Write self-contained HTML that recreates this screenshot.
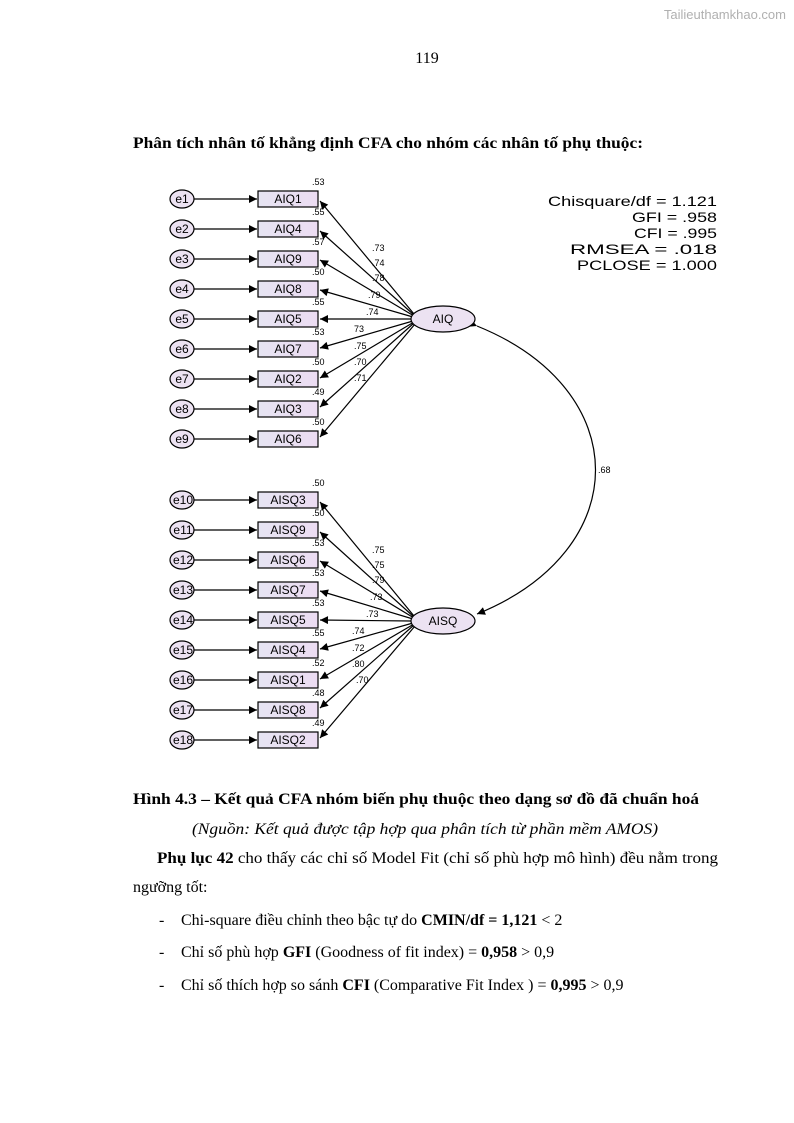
<!DOCTYPE html>
<html><head><meta charset="utf-8"><style>
html,body{margin:0;padding:0;background:#fff}
svg{display:block}
.d{font-family:"Liberation Sans",Arial,sans-serif}
.t{font-family:"Liberation Serif","Times New Roman",serif;font-size:16px;fill:#000}
</style></head><body>
<svg width="794" height="1123" viewBox="0 0 794 1123" xmlns="http://www.w3.org/2000/svg">
<defs>
<marker id="a" viewBox="0 0 10 10" refX="10" refY="5" markerWidth="12" markerHeight="8" markerUnits="userSpaceOnUse" orient="auto"><path d="M0,0L10,5L0,10z" fill="#000"/></marker>
<linearGradient id="g" x1="0" x2="1"><stop offset="0" stop-color="#e6e4f2"/><stop offset="1" stop-color="#ecdcf2"/></linearGradient>
</defs>
<text x="786" y="19" text-anchor="end" class="d" font-size="13" fill="#b0b0b0">Tailieuthamkhao.com</text>
<text x="427" y="63" text-anchor="middle" class="t">119</text>
<text x="133" y="148" class="t" font-weight="bold" textLength="510" lengthAdjust="spacingAndGlyphs">Phân tích nhân tố khẳng định CFA cho nhóm các nhân tố phụ thuộc:</text>

<g class="d" font-size="14" fill="#000">
<text x="548" y="206" textLength="169" lengthAdjust="spacingAndGlyphs">Chisquare/df = 1.121</text>
<text x="632" y="222" textLength="85" lengthAdjust="spacingAndGlyphs">GFI = .958</text>
<text x="634" y="238" textLength="83" lengthAdjust="spacingAndGlyphs">CFI = .995</text>
<text x="570" y="254" textLength="147" lengthAdjust="spacingAndGlyphs">RMSEA = .018</text>
<text x="577" y="270" textLength="140" lengthAdjust="spacingAndGlyphs">PCLOSE = 1.000</text>
</g>

<g stroke="#000" stroke-width="1.2" fill="none">
<path d="M477,326 C635,390 635,550 477,614" marker-start="url(#a)" marker-end="url(#a)"/>
<g marker-end="url(#a)">
<line x1="194" y1="199" x2="257" y2="199"/><line x1="194" y1="229" x2="257" y2="229"/><line x1="194" y1="259" x2="257" y2="259"/><line x1="194" y1="289" x2="257" y2="289"/><line x1="194" y1="319" x2="257" y2="319"/><line x1="194" y1="349" x2="257" y2="349"/><line x1="194" y1="379" x2="257" y2="379"/><line x1="194" y1="409" x2="257" y2="409"/><line x1="194" y1="439" x2="257" y2="439"/>
<line x1="194" y1="500" x2="257" y2="500"/><line x1="194" y1="530" x2="257" y2="530"/><line x1="194" y1="560" x2="257" y2="560"/><line x1="194" y1="590" x2="257" y2="590"/><line x1="194" y1="620" x2="257" y2="620"/><line x1="194" y1="650" x2="257" y2="650"/><line x1="194" y1="680" x2="257" y2="680"/><line x1="194" y1="710" x2="257" y2="710"/><line x1="194" y1="740" x2="257" y2="740"/>
<line x1="414" y1="314" x2="320" y2="201"/><line x1="414" y1="315" x2="320" y2="231"/><line x1="414" y1="316" x2="320" y2="260"/><line x1="413" y1="317" x2="320" y2="290"/><line x1="411" y1="319" x2="320" y2="319"/><line x1="413" y1="321" x2="320" y2="348"/><line x1="414" y1="322" x2="320" y2="378"/><line x1="414" y1="323" x2="320" y2="407"/><line x1="415" y1="324" x2="320" y2="437"/>
<line x1="414" y1="616" x2="320" y2="502"/><line x1="414" y1="617" x2="320" y2="532"/><line x1="414" y1="618" x2="320" y2="561"/><line x1="413" y1="619" x2="320" y2="591"/><line x1="411" y1="621" x2="320" y2="620"/><line x1="413" y1="623" x2="320" y2="649"/><line x1="414" y1="624" x2="320" y2="679"/><line x1="414" y1="625" x2="320" y2="708"/><line x1="415" y1="626" x2="320" y2="738"/>
</g>
</g>

<g stroke="#000" stroke-width="1.2" fill="#ece2f2">
<ellipse cx="443" cy="319" rx="32" ry="13"/><ellipse cx="443" cy="621" rx="32" ry="13"/>
<ellipse cx="182" cy="199" rx="12" ry="9"/><ellipse cx="182" cy="229" rx="12" ry="9"/><ellipse cx="182" cy="259" rx="12" ry="9"/><ellipse cx="182" cy="289" rx="12" ry="9"/><ellipse cx="182" cy="319" rx="12" ry="9"/><ellipse cx="182" cy="349" rx="12" ry="9"/><ellipse cx="182" cy="379" rx="12" ry="9"/><ellipse cx="182" cy="409" rx="12" ry="9"/><ellipse cx="182" cy="439" rx="12" ry="9"/>
<ellipse cx="182" cy="500" rx="12" ry="9"/><ellipse cx="182" cy="530" rx="12" ry="9"/><ellipse cx="182" cy="560" rx="12" ry="9"/><ellipse cx="182" cy="590" rx="12" ry="9"/><ellipse cx="182" cy="620" rx="12" ry="9"/><ellipse cx="182" cy="650" rx="12" ry="9"/><ellipse cx="182" cy="680" rx="12" ry="9"/><ellipse cx="182" cy="710" rx="12" ry="9"/><ellipse cx="182" cy="740" rx="12" ry="9"/>
</g>
<g stroke="#000" stroke-width="1.2" fill="url(#g)">
<rect x="258" y="191" width="60" height="16"/><rect x="258" y="221" width="60" height="16"/><rect x="258" y="251" width="60" height="16"/><rect x="258" y="281" width="60" height="16"/><rect x="258" y="311" width="60" height="16"/><rect x="258" y="341" width="60" height="16"/><rect x="258" y="371" width="60" height="16"/><rect x="258" y="401" width="60" height="16"/><rect x="258" y="431" width="60" height="16"/>
<rect x="258" y="492" width="60" height="16"/><rect x="258" y="522" width="60" height="16"/><rect x="258" y="552" width="60" height="16"/><rect x="258" y="582" width="60" height="16"/><rect x="258" y="612" width="60" height="16"/><rect x="258" y="642" width="60" height="16"/><rect x="258" y="672" width="60" height="16"/><rect x="258" y="702" width="60" height="16"/><rect x="258" y="732" width="60" height="16"/>
</g>

<g class="d" font-size="12" text-anchor="middle" fill="#000">
<text x="443" y="323">AIQ</text><text x="443" y="625">AISQ</text>
<text x="288" y="203">AIQ1</text><text x="288" y="233">AIQ4</text><text x="288" y="263">AIQ9</text><text x="288" y="293">AIQ8</text><text x="288" y="323">AIQ5</text><text x="288" y="353">AIQ7</text><text x="288" y="383">AIQ2</text><text x="288" y="413">AIQ3</text><text x="288" y="443">AIQ6</text>
<text x="288" y="504">AISQ3</text><text x="288" y="534">AISQ9</text><text x="288" y="564">AISQ6</text><text x="288" y="594">AISQ7</text><text x="288" y="624">AISQ5</text><text x="288" y="654">AISQ4</text><text x="288" y="684">AISQ1</text><text x="288" y="714">AISQ8</text><text x="288" y="744">AISQ2</text>
<text x="182" y="203">e1</text><text x="182" y="233">e2</text><text x="182" y="263">e3</text><text x="182" y="293">e4</text><text x="182" y="323">e5</text><text x="182" y="353">e6</text><text x="182" y="383">e7</text><text x="182" y="413">e8</text><text x="182" y="443">e9</text>
<text x="183" y="504">e10</text><text x="183" y="534">e11</text><text x="183" y="564">e12</text><text x="183" y="594">e13</text><text x="183" y="624">e14</text><text x="183" y="654">e15</text><text x="183" y="684">e16</text><text x="183" y="714">e17</text><text x="183" y="744">e18</text>
</g>
<g class="d" font-size="9" fill="#000">
<text x="312" y="185">.53</text><text x="312" y="215">.55</text><text x="312" y="245">.57</text><text x="312" y="275">.50</text><text x="312" y="305">.55</text><text x="312" y="335">.53</text><text x="312" y="365">.50</text><text x="312" y="395">.49</text><text x="312" y="425">.50</text>
<text x="312" y="486">.50</text><text x="312" y="516">.50</text><text x="312" y="546">.53</text><text x="312" y="576">.53</text><text x="312" y="606">.53</text><text x="312" y="636">.55</text><text x="312" y="666">.52</text><text x="312" y="696">.48</text><text x="312" y="726">.49</text>
<text x="372" y="251">.73</text><text x="372" y="266">.74</text><text x="372" y="281">.78</text><text x="368" y="298">.79</text><text x="366" y="315">.74</text><text x="354" y="332">73</text><text x="354" y="349">.75</text><text x="354" y="365">.70</text><text x="354" y="381">.71</text>
<text x="372" y="553">.75</text><text x="372" y="568">.75</text><text x="372" y="583">.79</text><text x="370" y="600">.73</text><text x="366" y="617">.73</text><text x="352" y="634">.74</text><text x="352" y="651">.72</text><text x="352" y="667">.80</text><text x="356" y="683">.70</text>
<text x="598" y="473">.68</text>
</g>

<text x="133" y="804" class="t" font-weight="bold" textLength="566" lengthAdjust="spacingAndGlyphs">Hình 4.3 – Kết quả CFA nhóm biến phụ thuộc theo dạng sơ đồ đã chuẩn hoá</text>
<text x="192" y="834" class="t" font-style="italic" textLength="466" lengthAdjust="spacingAndGlyphs">(Nguồn: Kết quả được tập hợp qua phân tích từ phần mềm AMOS)</text>
<text x="157" y="863" class="t" textLength="561" lengthAdjust="spacingAndGlyphs"><tspan font-weight="bold">Phụ lục 42</tspan> cho thấy các chỉ số Model Fit (chỉ số phù hợp mô hình) đều nằm trong</text>
<text x="133" y="892" class="t">ngưỡng tốt:</text>
<text x="159" y="925" class="t">-</text><text x="181" y="925" class="t">Chi-square điều chỉnh theo bậc tự do <tspan font-weight="bold">CMIN/df = 1,121</tspan> &lt; 2</text>
<text x="159" y="957" class="t">-</text><text x="181" y="957" class="t">Chỉ số phù hợp <tspan font-weight="bold">GFI</tspan> (Goodness of fit index) = <tspan font-weight="bold">0,958</tspan> &gt; 0,9</text>
<text x="159" y="990" class="t">-</text><text x="181" y="990" class="t">Chỉ số thích hợp so sánh <tspan font-weight="bold">CFI</tspan> (Comparative Fit Index ) = <tspan font-weight="bold">0,995</tspan> &gt; 0,9</text>
</svg>
</body></html>
